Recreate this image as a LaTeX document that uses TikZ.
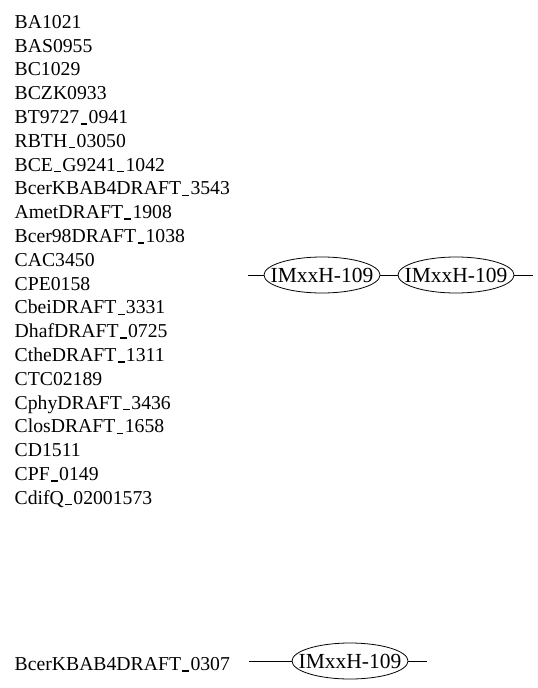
\documentclass[tikz,border=0pt]{standalone}
\usepackage{fontspec}
\setmainfont{Liberation Serif}
\usetikzlibrary{shapes.geometric}
\newcommand{\usc}{\kern.07em\rule[-0.06em]{0.34em}{0.075em}\kern.07em}
\tikzset{
  lbl/.style={anchor=base west,inner sep=0pt,font=\fontsize{19.7}{23}\selectfont},
  oval/.style={draw,ellipse,line width=0.8pt,minimum width=116pt,minimum height=36pt,inner sep=0pt},
  ovaltext/.style={font=\fontsize{21.5}{24}\selectfont,inner sep=0pt},
  conn/.style={line width=0.8pt}
}
\begin{document}
\begin{tikzpicture}[x=1pt,y=-1pt]
\useasboundingbox (0,0) rectangle (538,688);
\foreach \t [count=\i from 0] in {BA1021,BAS0955,BC1029,BCZK0933,BT9727\usc0941,RBTH\usc03050,BCE\usc G9241\usc1042,BcerKBAB4DRAFT\usc3543,AmetDRAFT\usc1908,Bcer98DRAFT\usc1038,CAC3450,CPE0158,CbeiDRAFT\usc3331,DhafDRAFT\usc0725,CtheDRAFT\usc1311,CTC02189,CphyDRAFT\usc3436,ClosDRAFT\usc1658,CD1511,CPF\usc0149,CdifQ\usc02001573}
  \node[lbl] (g\i) at (14.5,{28.2+23.8*\i}) {\t};
\node[oval,label={[ovaltext]center:IMxxH-109}] (e1) at (322,275) {};
\node[oval,label={[ovaltext]center:IMxxH-109}] (e2) at (456,275) {};
\coordinate (m0) at (248,275);
\coordinate (m3) at (533,275);
\draw[conn] (m0) -- (e1.west);
\draw[conn] (e1.east) -- (e2.west);
\draw[conn] (e2.east) -- (m3);
\node[lbl] (b) at (14.5,670.5) {BcerKBAB4DRAFT\usc0307};
\node[oval,label={[ovaltext]center:IMxxH-109}] (e3) at (350,661) {};
\coordinate (b0) at (249,661);
\coordinate (b3) at (427,661);
\draw[conn] (b0) -- (e3.west);
\draw[conn] (e3.east) -- (b3);
\end{tikzpicture}
\end{document}
